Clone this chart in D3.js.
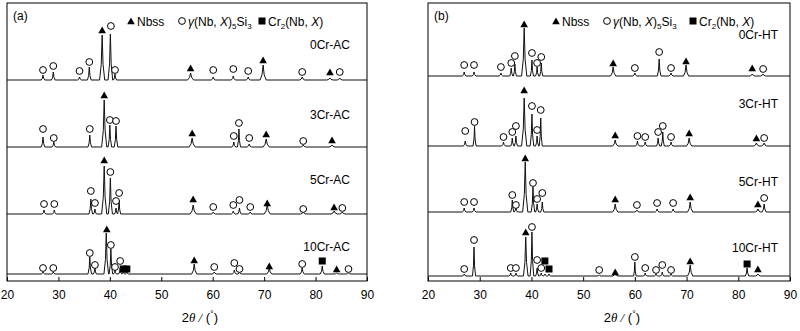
<!DOCTYPE html>
<html><head><meta charset="utf-8">
<script src="https://cdn.jsdelivr.net/npm/d3@7"></script>
<style>body{margin:0;background:#fff}svg{display:block;font-family:"Liberation Sans",Arial,sans-serif}</style>
</head><body><svg id="c" width="800" height="331"></svg>
<script>
// ---------- data ----------
const xTicks = [20, 30, 40, 50, 60, 70, 80, 90];
const xDomain = [20, 90];
const panelLabels = ["(a)", "(b)"];
const seriesNamesA = ["0Cr-AC", "3Cr-AC", "5Cr-AC", "10Cr-AC"];
const seriesNamesB = ["0Cr-HT", "3Cr-HT", "5Cr-HT", "10Cr-HT"];
// baseline offsets (a.u.)
const offsetsA = [201, 134, 67, 7];
const offsetsB = [205, 135, 69, 5];

// peaks: [2theta, intensity(a.u.), half-base width]
const peaks0CrAC = [[27.0,5,.35],[29.0,8,.35],[34.1,3,.35],[36.0,13,.35],[38.5,45,.5],[40.1,46,.45],[41.0,6,.3],[55.7,7,.6],[60.1,3,.4],[64.0,4,.4],[66.9,3,.4],[69.8,15,.6],[77.4,3,.5],[82.8,2,.6],[84.7,2,.5]];
const peaks3CrAC = [[27.0,10,.35],[29.1,5,.35],[36.1,12,.35],[38.9,47,.5],[40.0,22,.35],[41.2,21,.35],[56.0,9,.6],[64.1,5,.35],[65.1,18,.3],[67.1,3,.4],[70.4,8,.6],[77.6,2,.5],[83.2,2,.6]];
const peaks5CrAC = [[27.2,4,.35],[29.2,4,.35],[36.3,15,.35],[37.1,5,.3],[38.9,48,.5],[40.1,36,.4],[41.2,6,.3],[41.8,14,.3],[56.2,9,.6],[60.1,2,.4],[64.0,3,.35],[65.2,6,.35],[67.3,2,.4],[70.6,9,.6],[77.6,2,.5],[83.6,3,.6],[85.2,2,.5]];
const peaks10CrAC = [[27.0,2,.35],[29.0,2,.35],[36.1,17,.35],[37.1,6,.3],[39.3,41,.45],[40.2,25,.35],[41.0,4,.3],[42.0,6,.3],[42.6,2,.3],[43.3,2,.3],[56.4,10,.5],[60.3,2,.4],[64.2,4,.35],[65.2,2,.35],[71.0,6,.5],[77.4,6,.4],[81.3,8,.4],[84.1,1,.5],[86.4,1,.5]];
const peaks0CrHT = [[27.0,4,.35],[28.9,4,.35],[34.1,3,.35],[36.1,8,.3],[36.8,12,.3],[38.6,48,.5],[40.1,16,.3],[41.1,9,.3],[41.9,13,.3],[55.8,9,.5],[60.0,3,.4],[64.7,17,.35],[67.0,3,.4],[69.9,11,.5],[82.7,2,.5],[84.8,2,.5]];
const peaks3CrHT = [[27.2,5,.35],[29.0,20,.3],[34.6,4,.35],[36.3,8,.3],[37.0,10,.3],[38.6,48,.5],[40.1,32,.35],[41.1,10,.3],[41.8,28,.3],[56.2,6,.5],[60.5,5,.35],[62.0,4,.35],[64.5,8,.3],[65.4,14,.3],[67.0,4,.35],[70.5,8,.5],[83.5,3,.5],[85.0,3,.5]];
const peaks5CrHT = [[27.0,4,.35],[28.9,4,.35],[36.3,12,.3],[37.0,5,.3],[38.8,50,.5],[40.3,25,.35],[41.1,8,.3],[42.1,10,.3],[56.2,8,.5],[60.4,2,.4],[64.3,3,.35],[67.4,3,.35],[70.7,10,.5],[83.8,3,.5],[85.0,8,.4]];
const peaks10CrHT = [[27.0,2,.35],[28.9,29,.3],[36.0,3,.3],[37.0,3,.3],[38.9,39,.45],[40.1,44,.35],[41.1,8,.3],[41.9,3,.3],[42.6,2,.3],[43.4,2,.3],[53.1,1,.4],[56.2,3,.5],[60.0,14,.25],[62.0,3,.3],[64.1,2,.3],[65.3,4,.3],[67.0,2,.3],[70.7,11,.5],[81.7,8,.35],[83.8,2,.5]];

// phase markers: [2theta, phase (n = Nbss, g = gamma-(Nb,X)5Si3, c = Cr2(Nb,X)), height above baseline (a.u.)]
const marks0CrAC = [[27.0,"g",10],[29.0,"g",14],[34.1,"g",9],[36.0,"g",18],[38.5,"n",50],[40.2,"g",54],[41.0,"g",10],[55.7,"n",12],[60.1,"g",10],[64.0,"g",11],[66.9,"g",9],[69.8,"n",20],[77.4,"g",8],[82.8,"n",8],[84.7,"g",8]];
const marks3CrAC = [[27.0,"g",18],[29.1,"g",9],[36.1,"g",18],[38.9,"n",52],[40.0,"g",27],[41.2,"g",26],[56.0,"n",14],[64.1,"g",11],[65.1,"g",24],[67.1,"g",9],[70.4,"n",13],[77.6,"g",6],[83.2,"n",7]];
const marks5CrAC = [[27.2,"g",10],[29.2,"g",10],[36.3,"g",23],[37.1,"g",11],[38.9,"n",54],[40.1,"g",42],[41.2,"g",13],[41.8,"g",21],[56.2,"n",15],[60.1,"g",7],[64.0,"g",9],[65.2,"g",14],[67.3,"g",7],[70.6,"n",11],[77.6,"g",5],[83.6,"n",7],[85.2,"g",6]];
const marks10CrAC = [[27.0,"g",6],[29.0,"g",6],[36.1,"g",21],[37.1,"g",9],[39.4,"n",45],[40.2,"g",29],[41.0,"g",7],[42.0,"g",13],[42.6,"c",5],[43.3,"c",5],[56.4,"n",14],[60.3,"g",7],[64.2,"g",11],[65.2,"g",5],[71.0,"n",8],[77.4,"g",10],[81.3,"c",13],[84.1,"n",5],[86.4,"g",5]];
const marks0CrHT = [[27.0,"g",11],[28.9,"g",11],[34.1,"g",9],[36.1,"g",13],[36.8,"g",20],[38.6,"n",52],[40.1,"g",23],[41.1,"g",13],[41.9,"g",19],[55.8,"n",13],[60.0,"g",8],[64.7,"g",24],[67.0,"g",8],[69.9,"n",15],[82.7,"n",8],[84.8,"g",7]];
const marks3CrHT = [[27.2,"g",15],[29.0,"g",24],[34.6,"g",9],[36.3,"g",14],[37.0,"g",20],[38.6,"n",56],[40.1,"g",40],[41.1,"g",16],[41.8,"g",36],[56.2,"n",11],[60.5,"g",10],[62.0,"g",9],[64.5,"g",14],[65.4,"g",20],[67.0,"g",9],[70.5,"n",13],[83.5,"n",8],[85.0,"g",8]];
const marks5CrHT = [[27.0,"g",10],[28.9,"g",10],[36.3,"g",17],[37.0,"g",7],[38.8,"n",54],[40.3,"g",29],[41.1,"g",13],[42.1,"g",19],[56.2,"n",13],[60.4,"g",7],[64.3,"g",9],[67.4,"g",9],[70.7,"n",15],[83.8,"n",8],[85.0,"g",14]];
const marks10CrHT = [[27.0,"g",7],[28.9,"g",36],[36.0,"g",8],[37.0,"g",8],[38.9,"n",44],[40.1,"g",49],[41.1,"g",16],[41.9,"g",8],[42.6,"c",15],[43.4,"c",7],[53.1,"g",6],[56.2,"n",4],[60.0,"g",19],[62.0,"g",8],[64.1,"g",6],[65.3,"g",11],[67.0,"g",6],[70.7,"n",15],[81.7,"c",12],[83.8,"n",7]];

// ---------- drawing ----------
const svg = d3.select("#c");
svg.append("rect").attr("width",800).attr("height",331).attr("fill","#fff");

const panels = [
  {x0:7, x1:367, label:panelLabels[0], names:seriesNamesA, offsets:offsetsA,
   peaks:[peaks0CrAC,peaks3CrAC,peaks5CrAC,peaks10CrAC],
   marks:[marks0CrAC,marks3CrAC,marks5CrAC,marks10CrAC],
   labelRight:350, labelY:[49,119,184,251],
   leg:{tri:131, circ:182, sq:262}},
  {x0:428, x1:790, label:panelLabels[1], names:seriesNamesB, offsets:offsetsB,
   peaks:[peaks0CrHT,peaks3CrHT,peaks5CrHT,peaks10CrHT],
   marks:[marks0CrHT,marks3CrHT,marks5CrHT,marks10CrHT],
   labelRight:778, labelY:[39,108,186,252],
   leg:{tri:556, circ:607, sq:693}}
];
const plotTop = 3, plotBottom = 281;

function profilePoints(peaks){
  const xs = new Set([xDomain[0], xDomain[1]]);
  peaks.forEach(([p,h,w]) => { [p-w, p-w*0.35, p, p+w*0.35, p+w].forEach(v=>xs.add(+v.toFixed(4))); });
  const arr = Array.from(xs).sort((a,b)=>a-b);
  return arr.map(x => {
    let y = 0;
    peaks.forEach(([p,h,w]) => {
      const d = Math.abs(x-p);
      if (d < w) {
        const inner = w*0.35;
        y += d <= inner ? h - (h*0.65)*(d/inner) : h*0.35*(1-(d-inner)/(w-inner));
      }
    });
    return [x, y];
  });
}

function drawMark(g, t, cx, cy){
  if (t === "n") {
    g.append("path").attr("d",`M${cx-3.8},${cy+3.2}L${cx},${cy-3.4}L${cx+3.8},${cy+3.2}Z`).attr("fill","#000");
  } else if (t === "g") {
    g.append("circle").attr("cx",cx).attr("cy",cy).attr("r",3.4).attr("fill","#fff").attr("stroke","#000").attr("stroke-width",1);
  } else {
    g.append("rect").attr("x",cx-3.5).attr("y",cy-3.5).attr("width",7).attr("height",7).attr("fill","#000");
  }
}

panels.forEach(P => {
  const x = d3.scaleLinear().domain(xDomain).range([P.x0, P.x1]);
  const y = d3.scaleLinear().domain([0, plotBottom-plotTop]).range([plotBottom, plotTop]);
  const g = svg.append("g");

  P.peaks.forEach((pk, i) => {
    const pts = profilePoints(pk);
    const line = d3.line().x(d=>x(d[0])).y(d=>y(d[1]+P.offsets[i]));
    g.append("path").attr("d", line(pts)).attr("fill","none").attr("stroke","#111").attr("stroke-width",1);
    g.append("text").attr("x",P.labelRight).attr("y",P.labelY[i]).attr("text-anchor","end")
      .attr("font-size",12).attr("fill","#000").text(P.names[i]);
    P.marks[i].forEach(([p,t,hh]) => {
      drawMark(g, t, x(p), y(hh + P.offsets[i]));
    });
  });

  g.append("rect").attr("x",P.x0).attr("y",plotTop).attr("width",P.x1-P.x0).attr("height",plotBottom-plotTop)
    .attr("fill","none").attr("stroke","#000").attr("stroke-width",1);
  const ax = d3.axisBottom(x).tickValues(xTicks).tickSize(-4).tickPadding(9).tickFormat(d3.format("d"));
  const axg = svg.append("g").attr("transform",`translate(0,${plotBottom})`).call(ax);
  axg.select(".domain").remove();
  axg.selectAll("text").attr("font-size",12).attr("font-family","Liberation Sans, Arial, sans-serif").attr("fill","#000");
  axg.selectAll("line").attr("stroke","#000");

  const xl = svg.append("text").attr("x",x(57.5)).attr("y",322).attr("text-anchor","middle").attr("font-size",13).attr("fill","#000");
  xl.append("tspan").text("2");
  xl.append("tspan").attr("font-style","italic").attr("font-family","Liberation Serif, serif").text("θ /");
  xl.append("tspan").text(" (");
  xl.append("tspan").attr("font-size",9).attr("dy",-5).text("°");
  xl.append("tspan").attr("dy",5).text(")");

  svg.append("text").attr("x",P.x0+6).attr("y",20).attr("font-size",12).attr("fill","#000").text(P.label);

  const ly = 21;
  drawMark(svg, "n", P.leg.tri, ly);
  svg.append("text").attr("x",P.leg.tri+6).attr("y",ly+4.5).attr("font-size",12).text("Nbss");
  drawMark(svg, "g", P.leg.circ, ly);
  const t2 = svg.append("text").attr("x",P.leg.circ+6).attr("y",ly+4.5).attr("font-size",12);
  t2.append("tspan").attr("font-style","italic").text("γ");
  t2.append("tspan").text("(Nb, ");
  t2.append("tspan").attr("font-style","italic").text("X");
  t2.append("tspan").text(")");
  t2.append("tspan").attr("font-size",8).attr("dy",3).text("5");
  t2.append("tspan").attr("dy",-3).text("Si");
  t2.append("tspan").attr("font-size",8).attr("dy",3).text("3");
  drawMark(svg, "c", P.leg.sq, ly);
  const t3 = svg.append("text").attr("x",P.leg.sq+6).attr("y",ly+4.5).attr("font-size",12);
  t3.append("tspan").text("Cr");
  t3.append("tspan").attr("font-size",8).attr("dy",3).text("2");
  t3.append("tspan").attr("dy",-3).text("(Nb, ");
  t3.append("tspan").attr("font-style","italic").text("X");
  t3.append("tspan").text(")");
});
</script></body></html>
